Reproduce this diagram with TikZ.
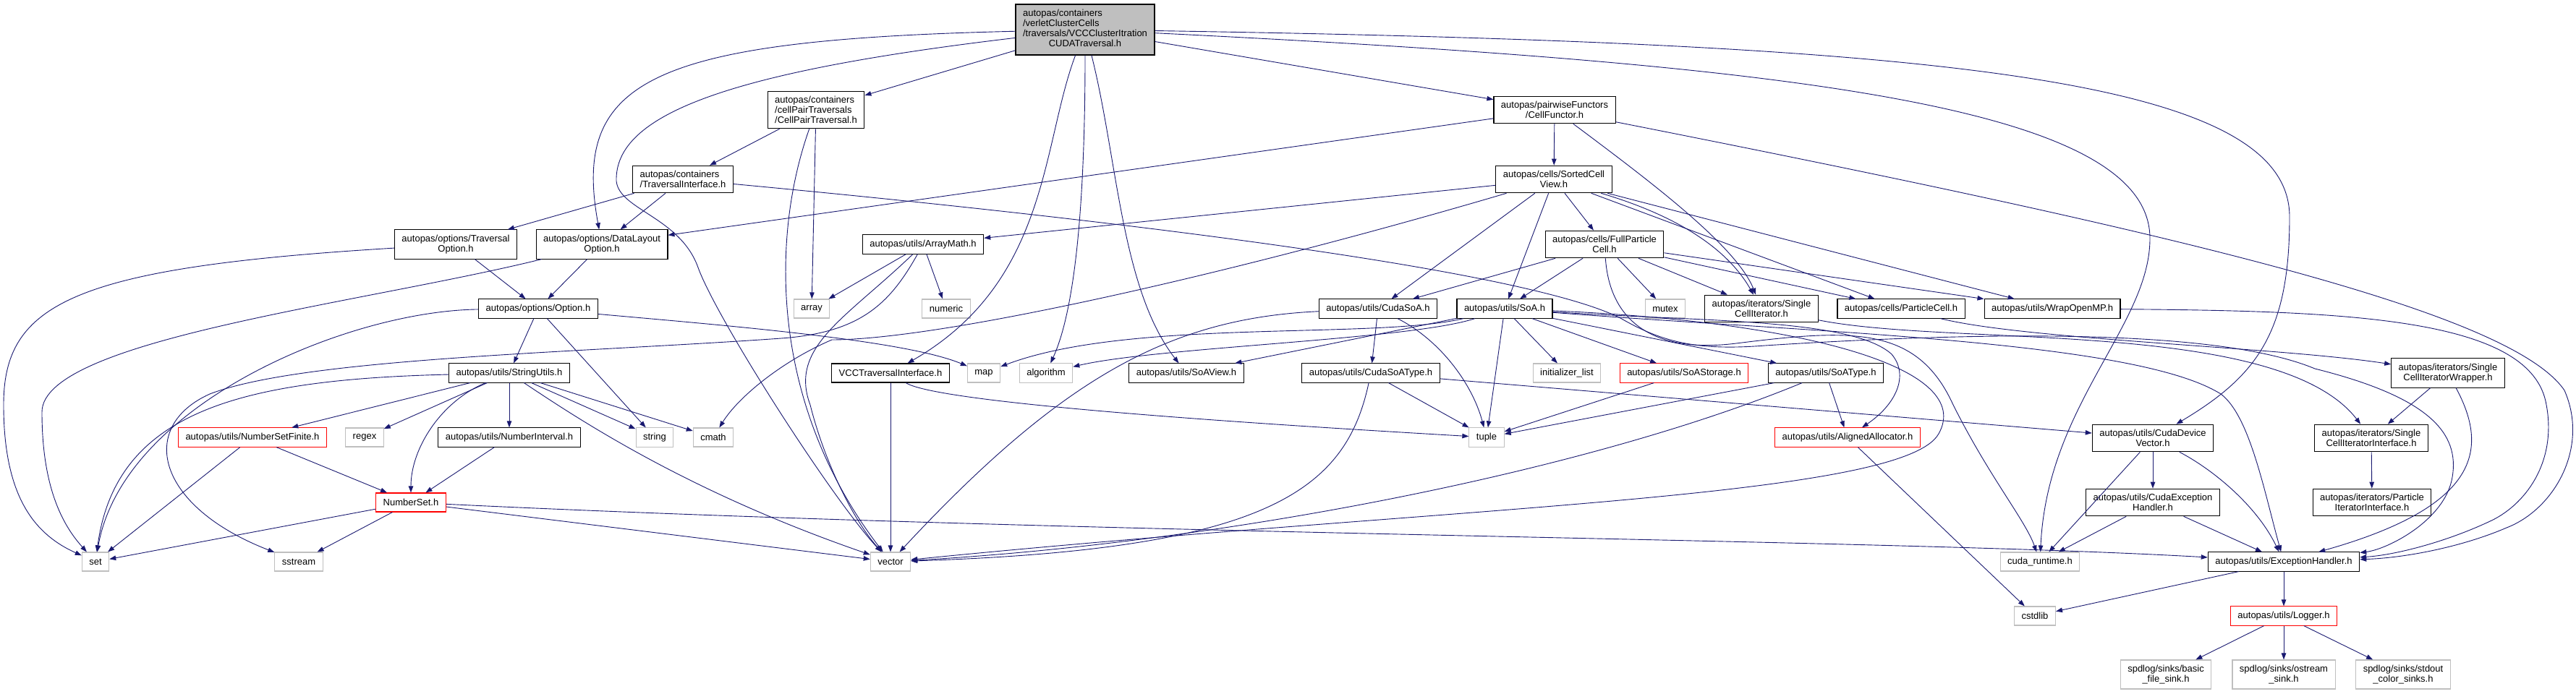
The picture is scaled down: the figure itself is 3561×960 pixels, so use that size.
\documentclass[tikz,border=0pt]{standalone}
\usepackage{fontspec}
\setmainfont{Liberation Sans}
\usepackage{tikz}
\usetikzlibrary{arrows.meta}
\definecolor{incblue}{HTML}{191970}
\definecolor{sysgray}{HTML}{BFBFBF}
\begin{document}
\begin{tikzpicture}[
    x=1pt, y=-1pt,
    hdr/.style={
      draw=black, line width=1.1pt, fill=white, align=center,
      inner xsep=10pt, inner ysep=7pt, minimum height=26pt,
      font=\fontsize{13}{14}\selectfont
    },
    syshdr/.style={hdr, draw=sysgray},
    redhdr/.style={hdr, draw=red},
    curhdr/.style={hdr, fill=sysgray},
    inc/.style={-{Triangle[length=9pt,width=6.5pt]}, incblue, line width=0.9pt},
  ]
    \useasboundingbox (0,0) rectangle (3561,960);
    \node[curhdr] (main) at (1500,41) {%
      \begin{tabular}{@{}l@{}}autopas/containers\\/verletClusterCells\\/traversals/VCCClusterItration\\\multicolumn{1}{@{}c@{}}{CUDATraversal.h}\end{tabular}};
    \node[hdr, align=left] (cpt) at (1128,152) {autopas/containers\\/cellPairTraversals\\/CellPairTraversal.h};
    \node[hdr] (cf) at (2149,152) {autopas/pairwiseFunctors\\/CellFunctor.h};
    \node[hdr, align=left] (ti) at (944,248) {autopas/containers\\/TraversalInterface.h};
    \node[hdr] (scv) at (2148,248) {autopas/cells/SortedCell\\View.h};
    \node[hdr] (tro) at (630,338) {autopas/options/Traversal\\Option.h};
    \node[hdr] (dlo) at (832,338) {autopas/options/DataLayout\\Option.h};
    \node[hdr] (am) at (1276,338) {autopas/utils/ArrayMath.h};
    \node[hdr] (fpc) at (2218,338) {autopas/cells/FullParticle\\Cell.h};
    \node[hdr] (opt) at (744,427) {autopas/options/Option.h};
    \node[syshdr] (arr) at (1122,427) {array};
    \node[syshdr] (num) at (1308,427) {numeric};
    \node[hdr] (cusoa) at (1905,427) {autopas/utils/CudaSoA.h};
    \node[hdr] (soa) at (2080,427) {autopas/utils/SoA.h};
    \node[syshdr] (mtx) at (2302,427) {mutex};
    \node[hdr] (sci) at (2435,427) {autopas/iterators/Single\\CellIterator.h};
    \node[hdr] (pc) at (2628,427) {autopas/cells/ParticleCell.h};
    \node[hdr] (omp) at (2837,427) {autopas/utils/WrapOpenMP.h};
    \node[hdr] (su) at (704,516) {autopas/utils/StringUtils.h};
    \node[hdr] (vccti) at (1231,516) {VCCTraversalInterface.h};
    \node[syshdr] (map) at (1360,516) {map};
    \node[syshdr] (algo) at (1446,516) {algorithm};
    \node[hdr] (soav) at (1640,516) {autopas/utils/SoAView.h};
    \node[hdr] (cusoat) at (1895,516) {autopas/utils/CudaSoAType.h};
    \node[syshdr] (initl) at (2166,516) {initializer\_list};
    \node[redhdr] (soast) at (2328,516) {autopas/utils/SoAStorage.h};
    \node[hdr] (soat) at (2524,516) {autopas/utils/SoAType.h};
    \node[hdr] (sciw) at (3384,516) {autopas/iterators/Single\\CellIteratorWrapper.h};
    \node[redhdr] (nsf) at (349,605) {autopas/utils/NumberSetFinite.h};
    \node[syshdr] (regex) at (504,605) {regex};
    \node[hdr] (ni) at (704,605) {autopas/utils/NumberInterval.h};
    \node[syshdr] (str) at (905,605) {string};
    \node[syshdr] (cmath) at (986,605) {cmath};
    \node[syshdr] (tuple) at (2055,605) {tuple};
    \node[redhdr] (aa) at (2554,605) {autopas/utils/AlignedAllocator.h};
    \node[hdr] (cdv) at (2976,606) {autopas/utils/CudaDevice\\Vector.h};
    \node[hdr] (scii) at (3278,606) {autopas/iterators/Single\\CellIteratorInterface.h};
    \node[redhdr] (ns) at (568,695) {NumberSet.h};
    \node[hdr] (ceh) at (2976,695) {autopas/utils/CudaException\\Handler.h};
    \node[hdr] (pii) at (3279,695) {autopas/iterators/Particle\\IteratorInterface.h};
    \node[syshdr] (set) at (132,777) {set};
    \node[syshdr] (sstr) at (413,777) {sstream};
    \node[syshdr] (vec) at (1231,777) {vector};
    \node[syshdr] (cudart) at (2820,777) {cuda\_runtime.h};
    \node[hdr] (eh) at (3157,777) {autopas/utils/ExceptionHandler.h};
    \node[syshdr] (cstd) at (2813,852) {cstdlib};
    \node[redhdr] (log) at (3157,852) {autopas/utils/Logger.h};
    \node[syshdr] (sp1) at (2994,933) {spdlog/sinks/basic\\\_file\_sink.h};
    \node[syshdr] (sp2) at (3157,933) {spdlog/sinks/ostream\\\_sink.h};
    \node[syshdr] (sp3) at (3322,933) {spdlog/sinks/stdout\\\_color\_sinks.h};

    \draw[inc] (main) .. controls (900,55) and (790,110) .. (dlo);
    \draw[inc] (main) .. controls (1000,100) and (850,160) .. (852,250) .. controls (855,290) and (940,300) .. (965,370) .. controls (990,440) and (1150,690) .. (vec);
    \draw[inc] (main) -- (cpt);
    \draw[inc] (main) .. controls (1440,200) and (1450,390) .. (vccti);
    \draw[inc] (main) .. controls (1500,250) and (1490,420) .. (algo);
    \draw[inc] (main) .. controls (1545,220) and (1550,400) .. (soav);
    \draw[inc] (main) -- (cf);
    \draw[inc] (main) .. controls (2500,90) and (2972,150) .. (2972,330) .. controls (2972,450) and (2830,560) .. (cudart);
    \draw[inc] (main) .. controls (2700,60) and (3165,110) .. (3165,300) .. controls (3165,460) and (3120,520) .. (cdv);

    \draw[inc] (cpt) -- (ti);
    \draw[inc] (cpt) -- (arr);
    \draw[inc] (cpt) .. controls (1065,330) and (1065,560) .. (vec);
    \draw[inc] (ti) -- (tro);
    \draw[inc] (ti) -- (dlo);
    \draw[inc] (ti) .. controls (1500,300) and (2100,370) .. (2240,440) .. controls (2300,475) and (2350,485) .. (2440,478) .. controls (2800,455) and (3080,460) .. (3200,510) .. controls (3360,550) and (3400,600) .. (3390,660) .. controls (3380,720) and (3300,760) .. (eh);
    \draw[inc] (tro) .. controls (100,370) and (5,420) .. (5,560) .. controls (5,690) and (50,740) .. (set);
    \draw[inc] (tro) -- (opt);
    \draw[inc] (dlo) .. controls (500,420) and (58,470) .. (58,570) .. controls (58,680) and (90,730) .. (set);
    \draw[inc] (dlo) -- (opt);
    \draw[inc] (opt) .. controls (480,430) and (170,560) .. (set);
    \draw[inc] (opt) -- (su);
    \draw[inc] (opt) -- (str);
    \draw[inc] (opt) .. controls (1000,450) and (1250,470) .. (map);

    \draw[inc] (am) -- (arr);
    \draw[inc] (am) -- (num);
    \draw[inc] (am) .. controls (1230,420) and (1190,460) .. (1080,468) .. controls (800,488) and (420,495) .. (290,545) .. controls (190,590) and (215,700) .. (sstr);
    \draw[inc] (am) .. controls (1170,440) and (1090,480) .. (1120,560) .. controls (1140,640) and (1180,720) .. (vec);

    \draw[inc] (cf) -- (scv);
    \draw[inc] (cf) -- (dlo);
    \draw[inc] (cf) .. controls (2280,250) and (2400,340) .. (sci);
    \draw[inc] (cf) .. controls (3000,320) and (3470,430) .. (3545,540) .. controls (3580,620) and (3530,705) .. (3465,730) .. controls (3400,758) and (3320,772) .. (eh);
    \draw[inc] (scv) -- (am);
    \draw[inc] (scv) .. controls (1700,380) and (1300,470) .. (1150,470) .. controls (1080,500) and (1020,550) .. (cmath);
    \draw[inc] (scv) -- (cusoa);
    \draw[inc] (scv) -- (soa);
    \draw[inc] (scv) -- (fpc);
    \draw[inc] (scv) .. controls (2290,290) and (2380,330) .. (sci);
    \draw[inc] (scv) -- (pc);
    \draw[inc] (scv) -- (omp);

    \draw[inc] (fpc) -- (cusoa);
    \draw[inc] (fpc) -- (soa);
    \draw[inc] (fpc) -- (mtx);
    \draw[inc] (fpc) -- (sci);
    \draw[inc] (fpc) -- (pc);
    \draw[inc] (fpc) -- (omp);
    \draw[inc] (fpc) .. controls (2225,440) and (2280,490) .. (2400,475) .. controls (2560,455) and (2650,450) .. (2700,560) .. controls (2750,660) and (2800,720) .. (cudart);

    \draw[inc] (cusoa) -- (cusoat);
    \draw[inc] (cusoa) .. controls (1990,470) and (2035,530) .. (tuple);
    \draw[inc] (cusoa) .. controls (1620,440) and (1470,520) .. (vec);
    \draw[inc] (soa) .. controls (1900,470) and (1560,440) .. (map);
    \draw[inc] (soa) .. controls (1950,470) and (1600,480) .. (algo);
    \draw[inc] (soa) -- (soav);
    \draw[inc] (soa) -- (tuple);
    \draw[inc] (soa) -- (initl);
    \draw[inc] (soa) -- (soast);
    \draw[inc] (soa) -- (soat);
    \draw[inc] (soa) .. controls (2350,445) and (2560,440) .. (2615,490) .. controls (2640,520) and (2620,560) .. (aa);
    \draw[inc] (soa) .. controls (2500,445) and (2730,510) .. (2680,600) .. controls (2630,690) and (2000,700) .. (vec);
    \draw[inc] (soa) .. controls (2500,460) and (2950,470) .. (3070,545) .. controls (3110,575) and (3130,680) .. (eh);

    \draw[inc] (sci) .. controls (2700,480) and (3150,440) .. (scii);
    \draw[inc] (pc) .. controls (2800,470) and (3150,480) .. (sciw);
    \draw[inc] (omp) .. controls (3250,430) and (3500,440) .. (3520,560) .. controls (3535,640) and (3490,700) .. (3440,722) .. controls (3380,750) and (3310,768) .. (eh);
    \draw[inc] (sciw) -- (scii);
    \draw[inc] (sciw) .. controls (3440,620) and (3430,700) .. (eh);
    \draw[inc] (scii) -- (pii);

    \draw[inc] (vccti) -- (vec);
    \draw[inc] (vccti) .. controls (1300,560) and (1800,590) .. (tuple);
    \draw[inc] (cusoat) -- (tuple);
    \draw[inc] (cusoat) .. controls (1860,680) and (1750,760) .. (vec);
    \draw[inc] (cusoat) -- (cdv);
    \draw[inc] (soast) -- (tuple);
    \draw[inc] (soat) -- (tuple);
    \draw[inc] (soat) .. controls (2200,650) and (1700,750) .. (vec);
    \draw[inc] (soat) -- (aa);
    \draw[inc] (aa) -- (cstd);

    \draw[inc] (su) -- (nsf);
    \draw[inc] (su) -- (regex);
    \draw[inc] (su) -- (ni);
    \draw[inc] (su) -- (str);
    \draw[inc] (su) -- (cmath);
    \draw[inc] (su) .. controls (610,555) and (568,620) .. (ns);
    \draw[inc] (su) .. controls (800,580) and (950,680) .. (vec);
    \draw[inc] (su) .. controls (330,525) and (160,570) .. (set);
    \draw[inc] (nsf) -- (set);
    \draw[inc] (nsf) -- (ns);
    \draw[inc] (ni) -- (ns);
    \draw[inc] (ns) -- (set);
    \draw[inc] (ns) -- (sstr);
    \draw[inc] (ns) -- (vec);
    \draw[inc] (ns) .. controls (1500,740) and (2600,745) .. (eh);

    \draw[inc] (cdv) -- (cudart);
    \draw[inc] (cdv) -- (ceh);
    \draw[inc] (cdv) .. controls (3060,650) and (3120,700) .. (eh);
    \draw[inc] (ceh) -- (cudart);
    \draw[inc] (ceh) -- (eh);
    \draw[inc] (eh) -- (cstd);
    \draw[inc] (eh) -- (log);
    \draw[inc] (log) -- (sp1);
    \draw[inc] (log) -- (sp2);
    \draw[inc] (log) -- (sp3);
  \end{tikzpicture}
\end{document}
